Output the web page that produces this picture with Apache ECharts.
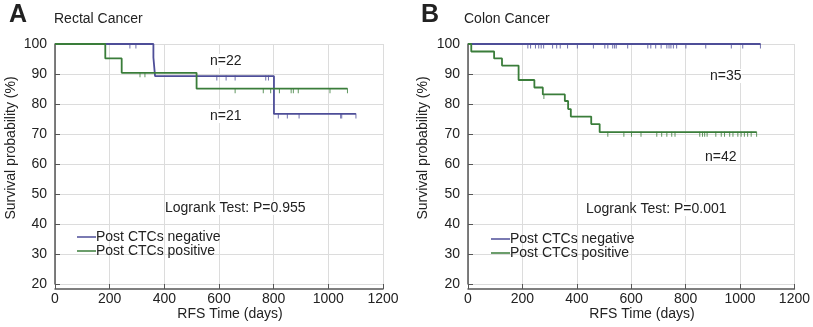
<!DOCTYPE html>
<html>
<head>
<meta charset="utf-8">
<script src="https://cdn.jsdelivr.net/npm/echarts@6/dist/echarts.min.js"></script>
<style>
  html, body { margin: 0; padding: 0; background: #fff; }
  #chart { width: 813px; height: 327px; }
</style>
</head>
<body>
<div id="chart"></div>
<script>
	// axis ticks
	var xTicks = [0, 200, 400, 600, 800, 1000, 1200];
	var yTicks = [20, 30, 40, 50, 60, 70, 80, 90, 100];

	// A: rectal cancer, [days, survival %]
	var rectalNegCurve = [[0, 100], [360, 95.5], [366, 89.3], [801, 76.7], [1101, 76.7]];
	var rectalNegCensor = [[274, 100], [296, 100], [592, 89.3], [626, 89.3], [659, 89.3], [771, 89.3], [781, 89.3],
		[817, 76.7], [850, 76.7], [893, 76.7], [1045, 76.7], [1049, 76.7], [1101, 76.7]];
	var rectalPosCurve = [[0, 100], [184, 95.2], [244, 90.4], [518, 85.1], [1070, 85.1]];
	var rectalPosCensor = [[311, 90.4], [329, 90.4], [659, 85.1], [762, 85.1], [789, 85.1], [821, 85.1], [864, 85.1],
		[872, 85.1], [890, 85.1], [1006, 85.1], [1070, 85.1]];

	// B: colon cancer
	var colonNegCurve = [[0, 100], [1075, 100]];
	var colonNegCensor = [[220, 100], [230, 100], [248, 100], [260, 100], [269, 100], [278, 100], [311, 100], [326, 100],
		[339, 100], [366, 100], [402, 100], [461, 100], [503, 100], [514, 100], [532, 100], [539, 100], [545, 100],
		[587, 100], [661, 100], [672, 100], [690, 100], [710, 100], [731, 100], [739, 100], [746, 100], [755, 100],
		[767, 100], [801, 100], [874, 100], [968, 100], [1010, 100], [1075, 100]];
	var colonPosCurve = [[0, 100], [12, 97.5], [96, 95.2], [125, 92.8], [186, 88.0], [244, 85.5], [275, 83.2],
		[356, 81.0], [368, 78.3], [378, 75.8], [453, 73.3], [484, 70.6], [1061, 70.6]];
	var colonPosCensor = [[279, 83.2], [514, 70.6], [573, 70.6], [601, 70.6], [636, 70.6], [694, 70.6], [712, 70.6],
		[731, 70.6], [749, 70.6], [761, 70.6], [852, 70.6], [862, 70.6], [870, 70.6], [879, 70.6], [911, 70.6],
		[931, 70.6], [943, 70.6], [962, 70.6], [974, 70.6], [992, 70.6], [1004, 70.6], [1016, 70.6], [1028, 70.6],
		[1041, 70.6], [1061, 70.6]];

	var seriesNames = ['Post CTCs negative', 'Post CTCs positive'];
	var colors = ['#4e4e98', '#3a7d3a'];
	var fontFam = '"Liberation Sans", Arial, sans-serif';

	function makeXAxis(idx) {
		return {
			type: 'value', gridIndex: idx, min: xTicks[0], max: xTicks[xTicks.length - 1], interval: 200, offset: 5,
			axisLine: { lineStyle: { color: '#555', width: 1.5 } },
			axisTick: { inside: true, length: 5, lineStyle: { color: '#555' } },
			axisLabel: { fontFamily: fontFam, fontSize: 14, color: '#222', margin: 3,
				formatter: function (v) { return String(v); } },
			splitLine: { show: true, lineStyle: { color: '#dcdcdc', width: 1 } }
		};
	}
	function makeYAxis(idx) {
		return {
			type: 'value', gridIndex: idx, min: yTicks[0], max: yTicks[yTicks.length - 1], interval: 10, offset: 5,
			axisLine: { show: true, lineStyle: { color: '#555', width: 1.5 } },
			axisTick: { show: true, inside: true, length: 5, lineStyle: { color: '#555' } },
			axisLabel: { fontFamily: fontFam, fontSize: 14, color: '#222', margin: 3,
				formatter: function (v) { return String(v); } },
			splitLine: { show: true, lineStyle: { color: '#dcdcdc', width: 1 } }
		};
	}
	function curve(name, idx, data, color) {
		return {
			name: name, type: 'line', step: 'end', xAxisIndex: idx, yAxisIndex: idx,
			data: data, showSymbol: false, symbol: 'none', animation: false,
			lineStyle: { color: color, width: 1.8 }, itemStyle: { color: color }
		};
	}
	function censor(idx, data, color) {
		return {
			name: 'censor', type: 'scatter', xAxisIndex: idx, yAxisIndex: idx,
			data: data, symbol: 'rect', symbolSize: [1, 5], symbolOffset: [0, 2],
			itemStyle: { color: color }, animation: false, silent: true
		};
	}
	function legendAt(left, top) {
		return {
			data: seriesNames, orient: 'vertical', left: left, top: top, itemGap: 0,
			icon: 'rect', itemWidth: 19, itemHeight: 1.5,
			textStyle: { fontFamily: fontFam, fontSize: 14, color: '#222', padding: [0, 0, 0, -5] },
			selectedMode: false
		};
	}
	function txt(left, top, text, size, weight, bg) {
		return {
			type: 'text', left: left, top: top, z: 100,
			style: { text: text, font: (weight || 'normal') + ' ' + size + 'px ' + fontFam, fill: '#222',
				backgroundColor: bg ? '#fff' : null }
		};
	}
	function vtxt(x, y, text) {
		return {
			type: 'text', x: x, y: y, rotation: Math.PI / 2, z: 100,
			style: { text: text, font: '14px ' + fontFam, fill: '#222', align: 'center', verticalAlign: 'middle' }
		};
	}
	function ctxt(x, y, text) {
		return {
			type: 'text', x: x, y: y, z: 100,
			style: { text: text, font: '14px ' + fontFam, fill: '#222', align: 'center', verticalAlign: 'middle' }
		};
	}

	var chart = echarts.init(document.getElementById('chart'));
	var option = {
		backgroundColor: '#fff',
		animation: false,
		grid: [
			{ left: 55, top: 44, width: 328, height: 240 },
			{ left: 468, top: 44, width: 329, height: 240 }
		],
		xAxis: [makeXAxis(0), makeXAxis(1)],
		yAxis: [makeYAxis(0), makeYAxis(1)],
		legend: [legendAt(72, 225), legendAt(486, 227)],
		graphic: [
			txt(9, 3, 'A', 25, 'bold'),
			txt(54, 12, 'Rectal Cancer', 14),
			txt(421, 3, 'B', 25, 'bold'),
			txt(464, 12, 'Colon Cancer', 14),
			txt(210, 54, 'n=22', 14, null, true),
			txt(210, 109, 'n=21', 14, null, true),
			txt(165, 201, 'Logrank Test: P=0.955', 14, null, true),
			txt(710, 69, 'n=35', 14, null, true),
			txt(705, 150, 'n=42', 14, null, true),
			txt(586, 202, 'Logrank Test: P=0.001', 14, null, true),
			vtxt(11, 148, 'Survival probability (%)'),
			vtxt(423, 148, 'Survival probability (%)'),
			ctxt(230, 314, 'RFS Time (days)'),
			ctxt(642, 314, 'RFS Time (days)')
		],
		series: [
			curve(seriesNames[0], 0, rectalNegCurve, colors[0]),
			curve(seriesNames[1], 0, rectalPosCurve, colors[1]),
			censor(0, rectalNegCensor, colors[0]),
			censor(0, rectalPosCensor, colors[1]),
			curve(seriesNames[0], 1, colonNegCurve, colors[0]),
			curve(seriesNames[1], 1, colonPosCurve, colors[1]),
			censor(1, colonNegCensor, colors[0]),
			censor(1, colonPosCensor, colors[1])
		]
	};
	chart.setOption(option);
</script>
</body>
</html>
